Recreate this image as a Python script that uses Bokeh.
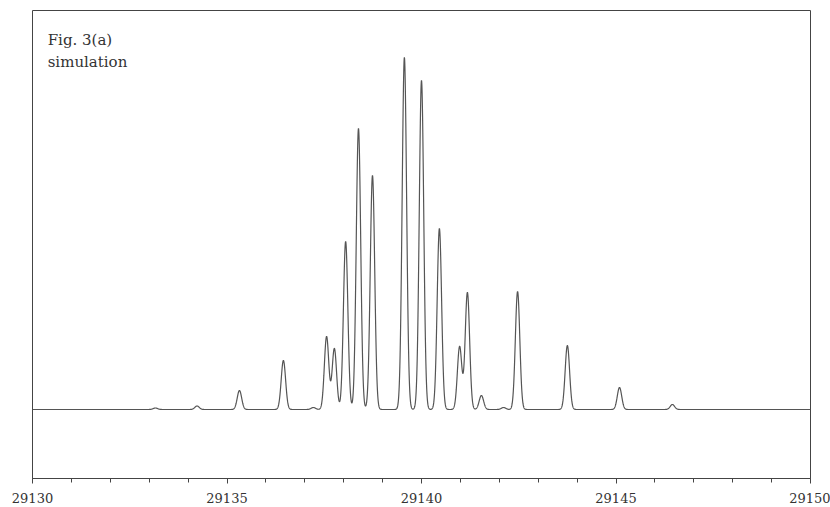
import numpy as np
from bokeh.plotting import figure
from bokeh.models import FixedTicker, Label, Range1d
from bokeh.embed import file_html
from bokeh.resources import INLINE

# Line positions (cm^-1) and peak heights (arbitrary units)
line_pos = [29133.16, 29134.23, 29135.32, 29136.45, 29137.22, 29137.56, 29137.76,
            29138.05, 29138.38, 29138.74, 29139.56, 29140.00, 29140.46, 29140.98,
            29141.18, 29141.54, 29142.11, 29142.47, 29143.75, 29145.09, 29146.45]
line_int = [1.5, 3.5, 19, 49, 2, 73, 61,
            168, 281, 234, 352, 329, 181, 63,
            117, 14, 2, 118, 64, 22, 5]
line_sigma = 0.057

major_ticks = [29130, 29135, 29140, 29145, 29150]
minor_ticks = list(range(29130, 29151))
title_lines = ["Fig. 3(a)", "simulation"]

x = np.linspace(29130, 29150, 6001)
y = np.zeros_like(x)
for c, h in zip(line_pos, line_int):
    y += h * np.exp(-0.5 * ((x - c) / line_sigma) ** 2)

p = figure(width=830, height=507, output_backend="svg", toolbar_location=None,
           x_range=Range1d(29130, 29150), y_range=Range1d(-69, 399),
           y_axis_location=None,
           min_border_left=32, min_border_right=20, min_border_top=10, min_border_bottom=29)
p.background_fill_color = "white"
p.border_fill_color = "white"
p.outline_line_color = "#444444"
p.outline_line_width = 1
p.xgrid.visible = False
p.ygrid.visible = False

p.line(x, y, line_color="#555555", line_width=1.2)

ax = p.xaxis[0]
ax.ticker = FixedTicker(ticks=major_ticks, minor_ticks=minor_ticks)
ax.axis_line_color = "#444444"
ax.major_tick_line_color = "#444444"
ax.minor_tick_line_color = "#444444"
ax.major_tick_in = 0
ax.major_tick_out = 5
ax.minor_tick_in = 0
ax.minor_tick_out = 4
ax.major_label_standoff = 9
ax.major_label_text_font = "DejaVu Serif"
ax.major_label_text_font_size = "13px"
ax.major_label_text_color = "#333333"

for i, t in enumerate(title_lines):
    p.add_layout(Label(x=29130.39, y=370 - 22 * i, text=t, text_align="left",
                       text_baseline="alphabetic", text_font="DejaVu Serif",
                       text_font_size="15px", text_color="#333333"))

open("out.html", "w").write(file_html(p, INLINE))
